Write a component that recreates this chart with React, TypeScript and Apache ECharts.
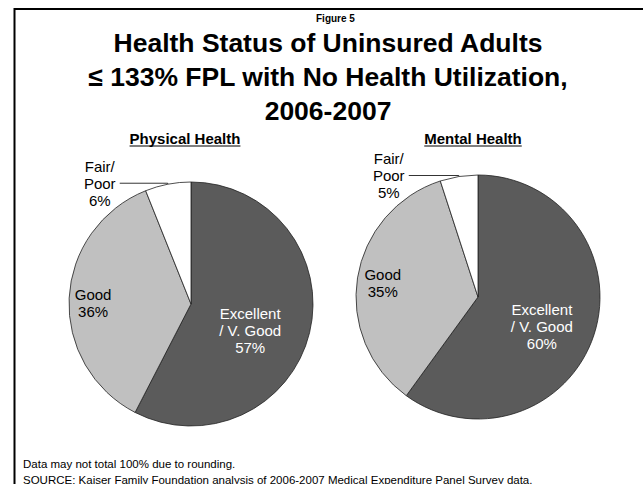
import React, { useEffect, useRef } from "react";
import * as echarts from "echarts";

// ---- data ----
const categories = ["Excellent / V. Good", "Good", "Fair/Poor"];
const labelLines = [["Excellent", "/ V. Good"], ["Good"], ["Fair/", "Poor"]];
const physicalValues = [57, 36, 6];
const mentalValues = [60, 35, 5];
const panelTitles = ["Physical Health", "Mental Health"];
const titleLines = [
  "Health Status of Uninsured Adults",
  "≤ 133% FPL with No Health Utilization,",
  "2006-2007",
];
const figureLabel = "Figure 5";
const notes = [
  "Data may not total 100% due to rounding.",
  "SOURCE: Kaiser Family Foundation analysis of 2006-2007 Medical Expenditure Panel Survey data.",
];

// ---- styles ----
const FONT = "Arial, 'Liberation Sans', Helvetica, sans-serif";
const sliceColors = ["#5b5b5b", "#c0c0c0", "#ffffff"];
const labelColors = ["#ffffff", "#000000", "#000000"];

function textWidth(text: string, font: string): number {
  const c = document.createElement("canvas").getContext("2d");
  if (!c) return text.length * 8;
  c.font = font;
  return c.measureText(text).width;
}

function makePie(
  values: number[],
  center: number[],
  shifts: Array<{ dx: number; dy: number } | null>,
  lineLen2: number
) {
  return {
    type: "pie",
    center,
    radius: 122,
    startAngle: 90,
    clockwise: true,
    avoidLabelOverlap: false,
    silent: true,
    itemStyle: { borderColor: "#222", borderWidth: 0.8 },
    label: {
      show: true,
      position: "inside",
      fontFamily: FONT,
      fontSize: 15,
      lineHeight: 17,
      formatter: (p: any) =>
        [...labelLines[p.dataIndex], p.value + "%"].join("\n"),
    },
    labelLine: { show: false },
    labelLayout: (p: any) => shifts[p.dataIndex] || {},
    data: values.map((v, i) => {
      const outside = i === 2;
      return {
        name: categories[i],
        value: v,
        itemStyle: { color: sliceColors[i] },
        label: outside
          ? {
              position: "outside",
              distanceToLabelLine: 3,
              formatter: (p: any) =>
                [...labelLines[p.dataIndex], p.value + "%"]
                  .map((s) => "{c|" + s + "}")
                  .join("\n"),
              rich: {
                c: {
                  width: 34,
                  align: "center",
                  fontFamily: FONT,
                  fontSize: 15,
                  lineHeight: 17,
                  color: "#000",
                },
              },
            }
          : { color: labelColors[i] },
        labelLine: outside
          ? {
              show: true,
              length: 1,
              length2: lineLen2,
              smooth: false,
              lineStyle: { color: "#000", width: 0.8 },
            }
          : { show: false },
      };
    }),
  };
}

export default function App() {
  const ref = useRef<HTMLDivElement>(null);
  useEffect(() => {
    document.body.style.margin = "0";
    if (!ref.current) return;
    const chart = echarts.init(ref.current, null, { renderer: "svg" });

    const subFont = "bold 15px " + FONT;
    const subCenters = [185, 473];
    const subGraphics: any[] = [];
    panelTitles.forEach((t, i) => {
      const w = textWidth(t, subFont);
      subGraphics.push({
        type: "text",
        x: subCenters[i],
        y: 131,
        style: {
          text: t,
          fontFamily: FONT,
          fontSize: 15,
          fontWeight: "bold",
          fill: "#000",
          align: "center",
          verticalAlign: "top",
        },
      });
      subGraphics.push({
        type: "line",
        shape: {
          x1: subCenters[i] - w / 2,
          y1: 146,
          x2: subCenters[i] + w / 2,
          y2: 146,
        },
        style: { stroke: "#000", lineWidth: 1.2 },
      });
    });

    chart.setOption({
      animation: false,
      backgroundColor: "#ffffff",
      graphic: [
        {
          type: "rect",
          shape: { x: 14.5, y: 9, width: 700, height: 600 },
          style: { fill: "none", stroke: "#000", lineWidth: 2 },
        },
        {
          type: "text",
          x: 328,
          y: 26,
          style: {
            text: titleLines.join("\n"),
            fontFamily: FONT,
            fontSize: 26.5,
            fontWeight: "bold",
            lineHeight: 34,
            fill: "#000",
            align: "center",
            verticalAlign: "top",
          },
        },
        {
          type: "text",
          x: 316,
          y: 13,
          style: {
            text: figureLabel,
            fontFamily: FONT,
            fontSize: 10,
            fontWeight: "bold",
            fill: "#000",
            align: "left",
            verticalAlign: "top",
          },
        },
        ...subGraphics,
        {
          type: "text",
          x: 23,
          y: 456,
          style: {
            text: notes.join("\n"),
            fontFamily: FONT,
            fontSize: 11.5,
            lineHeight: 16,
            fill: "#000",
            align: "left",
            verticalAlign: "top",
          },
        },
      ],
      series: [
        makePie(
          physicalValues,
          [191, 304],
          [{ dx: -3, dy: 11 }, { dx: -34, dy: 2 }, null],
          48
        ),
        makePie(
          mentalValues,
          [478, 297],
          [{ dx: 3, dy: 10 }, { dx: -32, dy: -4 }, null],
          50
        ),
      ],
    });
    return () => chart.dispose();
  }, []);
  return <div ref={ref} style={{ width: 643, height: 484 }} />;
}
